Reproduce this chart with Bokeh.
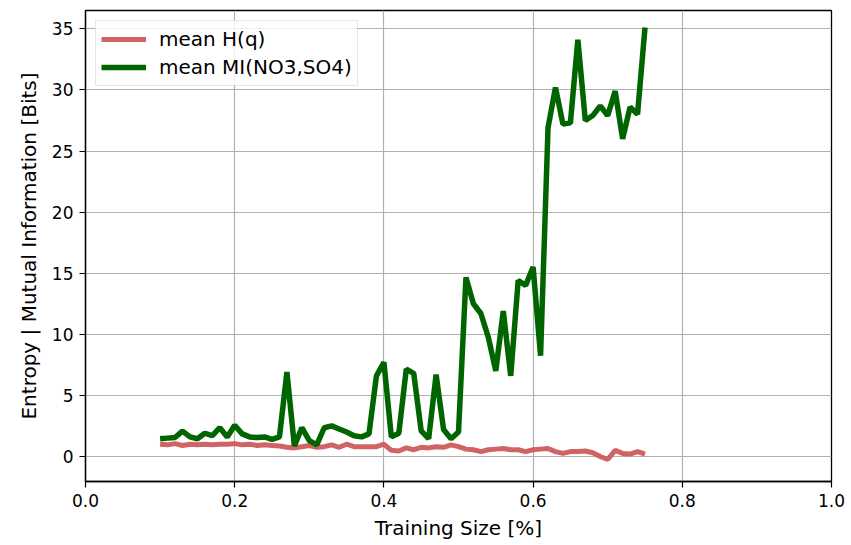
from bokeh.plotting import figure
from bokeh.models import Range1d, FixedTicker, Legend, LegendItem, ColumnDataSource
from bokeh.embed import file_html
from bokeh.resources import INLINE

training_size = [round(0.10 + 0.01 * i, 2) for i in range(66)]

mean_hq = [1.0, 0.95, 1.05, 0.9, 1.0, 0.95, 1.0, 0.95, 1.0, 1.0,
           1.05, 0.95, 1.0, 0.9, 0.95, 0.9, 0.85, 0.75, 0.7, 0.8,
           0.9, 0.75, 0.8, 0.95, 0.75, 1.0, 0.8, 0.8, 0.8, 0.8,
           1.0, 0.5, 0.45, 0.7, 0.55, 0.75, 0.7, 0.8, 0.75, 0.95,
           0.8, 0.6, 0.55, 0.4, 0.55, 0.6, 0.65, 0.55, 0.55, 0.4,
           0.55, 0.6, 0.65, 0.4, 0.25, 0.4, 0.4, 0.45, 0.3, 0.0,
           -0.25, 0.5, 0.25, 0.2, 0.4, 0.2]

mean_mi = [1.45, 1.5, 1.55, 2.07, 1.6, 1.45, 1.9, 1.7, 2.35, 1.6,
           2.55, 1.85, 1.6, 1.55, 1.6, 1.4, 1.6, 6.9, 0.85, 2.35,
           1.3, 0.95, 2.35, 2.5, 2.25, 2.0, 1.7, 1.6, 1.85, 6.6,
           7.7, 1.6, 1.9, 7.15, 6.8, 2.1, 1.45, 6.7, 2.2, 1.45,
           2.0, 14.65, 12.5, 11.7, 9.75, 7.0, 11.9, 6.6, 14.4, 14.0,
           15.5, 8.25, 26.9, 30.2, 27.2, 27.3, 34.1, 27.5, 27.9, 28.7,
           27.9, 29.9, 26.0, 28.6, 28.0, 35.1]

x_ticks = [0.0, 0.2, 0.4, 0.6, 0.8, 1.0]
y_ticks = [0, 5, 10, 15, 20, 25, 30, 35]

src = ColumnDataSource(dict(x=training_size, hq=mean_hq, mi=mean_mi))

FONT = "DejaVu Sans"

p = figure(width=851, height=545, output_backend="svg", toolbar_location=None,
           x_range=Range1d(0.0, 1.0), y_range=Range1d(-2.05, 36.5),
           min_border_left=85, min_border_right=20, min_border_top=10, min_border_bottom=64)
p.background_fill_color = "white"
p.border_fill_color = "white"
p.outline_line_color = "black"
p.outline_line_width = 1.3

r1 = p.line("x", "hq", source=src, line_color="#cd5c5c", line_width=5, line_alpha=0.95)
r2 = p.line("x", "mi", source=src, line_color="#006400", line_width=5.5)

for ax, ticks in ((p.xaxis[0], x_ticks), (p.yaxis[0], y_ticks)):
    ax.ticker = FixedTicker(ticks=ticks)
    ax.major_label_text_font = FONT
    ax.major_label_text_font_size = "17px"
    ax.major_label_text_color = "black"
    ax.axis_label_text_font = FONT
    ax.axis_label_text_font_size = "20px"
    ax.axis_label_text_font_style = "normal"
    ax.axis_label_text_color = "black"
    ax.axis_line_color = "black"
    ax.axis_line_width = 1.3
    ax.major_tick_line_color = "black"
    ax.major_tick_line_width = 1.2
    ax.major_tick_in = 0
    ax.major_tick_out = 6
    ax.minor_tick_line_color = None
    ax.major_label_standoff = 6

p.xaxis.major_label_overrides = {0.0: "0.0", 0.2: "0.2", 0.4: "0.4", 0.6: "0.6", 0.8: "0.8", 1.0: "1.0"}
p.xaxis.axis_label = "Training Size [%]"
p.yaxis.axis_label = "Entropy | Mutual Information [Bits]"
p.xaxis.axis_label_standoff = 6
p.yaxis.axis_label_standoff = 8

p.xgrid.ticker = FixedTicker(ticks=x_ticks)
p.ygrid.ticker = FixedTicker(ticks=y_ticks)
for g in (p.xgrid[0], p.ygrid[0]):
    g.grid_line_color = "#b0b0b0"
    g.grid_line_width = 1.2

legend = Legend(items=[LegendItem(label="mean H(q)", renderers=[r1]),
                       LegendItem(label="mean MI(NO3,SO4)", renderers=[r2])],
                location="top_left")
legend.label_text_font = FONT
legend.label_text_font_size = "20px"
legend.label_text_color = "black"
legend.glyph_width = 45
legend.glyph_height = 26
legend.label_standoff = 13
legend.spacing = 2
legend.padding = 5
legend.margin = 10
legend.border_line_color = "#cccccc"
legend.border_line_width = 1
legend.background_fill_color = "white"
legend.background_fill_alpha = 0.8
p.add_layout(legend)

open("out.html", "w").write(file_html(p, INLINE))
